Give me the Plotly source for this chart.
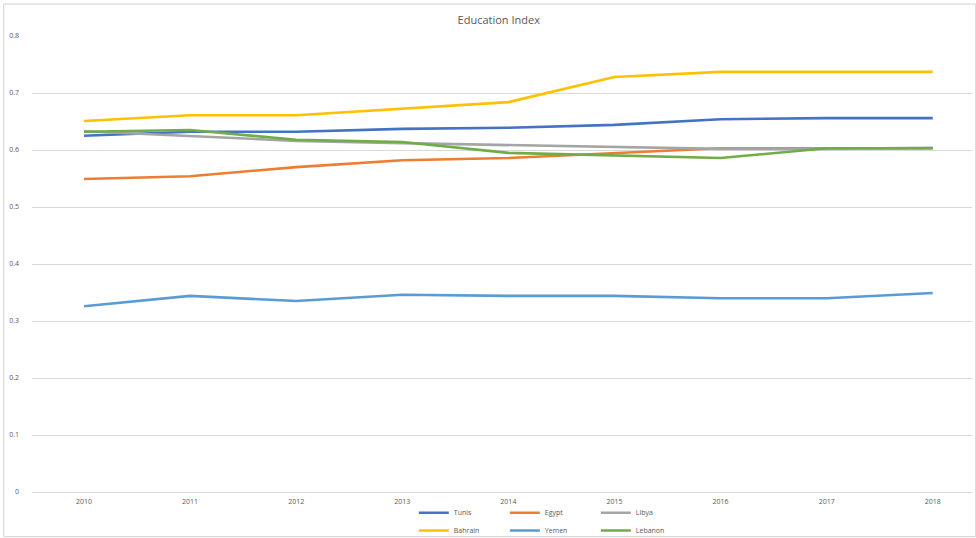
import plotly.graph_objects as go

years = [2010, 2011, 2012, 2013, 2014, 2015, 2016, 2017, 2018]
tunis = [0.625, 0.632, 0.632, 0.637, 0.639, 0.644, 0.654, 0.656, 0.656]
egypt = [0.549, 0.554, 0.570, 0.582, 0.586, 0.595, 0.603, 0.603, 0.603]
libya = [0.633, 0.625, 0.616, 0.612, 0.609, 0.605, 0.602, 0.602, 0.604]
bahrain = [0.651, 0.661, 0.661, 0.672, 0.684, 0.728, 0.737, 0.737, 0.737]
yemen = [0.326, 0.344, 0.335, 0.346, 0.344, 0.344, 0.340, 0.340, 0.349]
lebanon = [0.632, 0.635, 0.618, 0.614, 0.595, 0.591, 0.586, 0.603, 0.603]
y_ticks = [0, 0.1, 0.2, 0.3, 0.4, 0.5, 0.6, 0.7, 0.8]

series = [
    ("Tunis", tunis, "#4472C4", "legend"),
    ("Egypt", egypt, "#ED7D31", "legend"),
    ("Libya", libya, "#A5A5A5", "legend"),
    ("Bahrain", bahrain, "#FFC000", "legend2"),
    ("Yemen", yemen, "#5B9BD5", "legend2"),
    ("Lebanon", lebanon, "#70AD47", "legend2"),
]

fig = go.Figure()
for name, vals, color, lg in series:
    fig.add_trace(go.Scatter(x=years, y=vals, mode="lines", name=name,
                             line=dict(color=color, width=2.6), legend=lg))

legend_common = dict(orientation="h", xanchor="left", yanchor="middle",
                     xref="container", yref="container",
                     font=dict(size=7, color="#595959", family="Open Sans"),
                     entrywidth=46, entrywidthmode="pixels",
                     bgcolor="rgba(0,0,0,0)", itemwidth=30, tracegroupgap=0)

fig.update_layout(
    width=976, height=538,
    margin=dict(l=32, r=4, t=36, b=46, autoexpand=False),
    paper_bgcolor="white", plot_bgcolor="white",
    title=dict(text="Education Index", x=0.511, xanchor="center", y=0.962, yanchor="middle",
               font=dict(size=11, color="#595959", family="Open Sans")),
    xaxis=dict(range=[2009.51, 2018.37], tickmode="array", tickvals=years,
               ticktext=[str(y) for y in years], showgrid=False, zeroline=False,
               showline=False, ticks="", tickfont=dict(size=7, color="#595959", family="Open Sans"),
               ticklabelstandoff=4, automargin=False),
    yaxis=dict(range=[0, 0.8], tickmode="array", tickvals=y_ticks,
               ticktext=["0"] + [f"{v:.1f}" for v in y_ticks[1:]],
               showgrid=True, gridcolor="#D9D9D9", gridwidth=1, zeroline=True,
               zerolinecolor="#D9D9D9", zerolinewidth=1,
               showline=False, ticks="", tickfont=dict(size=7, color="#595959", family="Open Sans"),
               ticklabelstandoff=12, automargin=False),
    legend=dict(x=0.424, y=0.047, **legend_common),
    legend2=dict(x=0.424, y=0.014, **legend_common),
    showlegend=True,
    shapes=[dict(type="rect", xref="paper", yref="paper", x0=-0.03, x1=1.004, y0=-0.098, y1=1.07,
                 line=dict(color="#D0D0D0", width=1), layer="below")],
)

fig.write_html("out.html")
